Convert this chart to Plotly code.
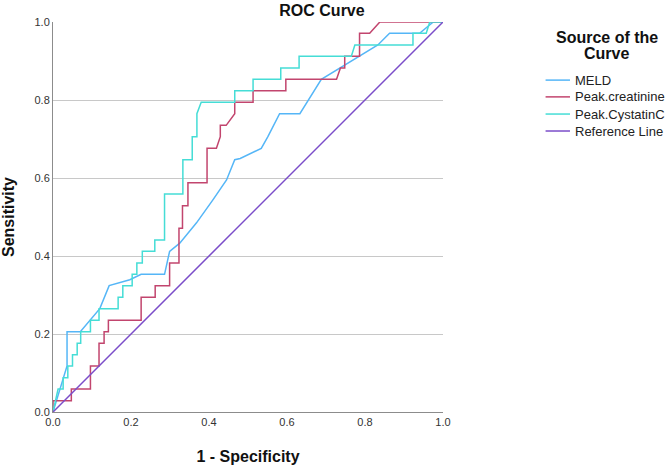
import plotly.graph_objects as go

# ROC curve points (x = 1 - specificity, y = sensitivity)
meld_x = [0, 0.036, 0.036, 0.070, 0.120, 0.144, 0.197, 0.226, 0.286, 0.299, 0.325,
          0.368, 0.410, 0.445, 0.466, 0.480, 0.534, 0.551, 0.581, 0.633, 0.688,
          0.833, 0.863, 0.940, 0.975, 1.0]
meld_y = [0, 0.118, 0.206, 0.206, 0.265, 0.324, 0.339, 0.353, 0.353, 0.412, 0.433,
          0.485, 0.544, 0.595, 0.647, 0.650, 0.676, 0.706, 0.765, 0.765, 0.853,
          0.941, 0.971, 0.971, 1.0, 1.0]

creat_x = [0, 0, 0.047, 0.047, 0.096, 0.096, 0.118, 0.118, 0.131, 0.131, 0.142, 0.142,
           0.226, 0.226, 0.262, 0.262, 0.299, 0.299, 0.323, 0.323, 0.332, 0.332,
           0.346, 0.346, 0.395, 0.395, 0.419, 0.429, 0.429, 0.444, 0.466, 0.466,
           0.513, 0.513, 0.597, 0.597, 0.727, 0.737, 0.748, 0.748, 0.786, 0.786,
           0.812, 0.838, 1.0]
creat_y = [0, 0.029, 0.029, 0.059, 0.059, 0.118, 0.118, 0.176, 0.176, 0.206, 0.206, 0.235,
           0.235, 0.294, 0.294, 0.324, 0.324, 0.382, 0.382, 0.471, 0.471, 0.529,
           0.529, 0.588, 0.588, 0.676, 0.676, 0.706, 0.735, 0.735, 0.765, 0.794,
           0.794, 0.824, 0.824, 0.853, 0.853, 0.882, 0.882, 0.912, 0.912, 0.971,
           0.971, 1.0, 1.0]

cyst_x = [0, 0.013, 0.026, 0.026, 0.038, 0.038, 0.050, 0.050, 0.062, 0.062, 0.071, 0.071,
          0.096, 0.096, 0.118, 0.118, 0.167, 0.167, 0.179, 0.179, 0.203, 0.203,
          0.215, 0.215, 0.229, 0.229, 0.261, 0.261, 0.286, 0.286, 0.333, 0.333,
          0.357, 0.357, 0.369, 0.369, 0.380, 0.466, 0.466, 0.513, 0.513, 0.584,
          0.584, 0.631, 0.631, 0.765, 0.774, 0.923, 0.923, 0.957, 0.966, 1.0]
cyst_y = [0, 0.059, 0.059, 0.088, 0.088, 0.118, 0.118, 0.147, 0.147, 0.176, 0.176, 0.206,
          0.206, 0.235, 0.235, 0.265, 0.265, 0.294, 0.294, 0.324, 0.324, 0.353,
          0.353, 0.382, 0.382, 0.412, 0.412, 0.441, 0.441, 0.559, 0.559, 0.647,
          0.647, 0.706, 0.706, 0.765, 0.794, 0.794, 0.824, 0.824, 0.853, 0.853,
          0.882, 0.882, 0.912, 0.912, 0.941, 0.941, 0.971, 0.971, 1.0, 1.0]

ref_x = [0, 1]
ref_y = [0, 1]

names = ["MELD", "Peak.creatinine", "Peak.CystatinC", "Reference Line"]
colors = ["#55B6F7", "#C2456E", "#45DDD6", "#7B4DC9"]
series = [(meld_x, meld_y), (creat_x, creat_y), (cyst_x, cyst_y), (ref_x, ref_y)]

fig = go.Figure()
for (xs, ys), name, color in zip(series, names, colors):
    fig.add_trace(go.Scatter(x=xs, y=ys, mode="lines", name=name, showlegend=False,
                             line=dict(color=color, width=1.5)))

font = "Liberation Sans, Arial, sans-serif"

# legend drawn by hand so its spacing matches the SPSS output
leg_y = [0.851, 0.808, 0.764, 0.7205]
for name, color, yy in zip(names, colors, leg_y):
    fig.add_shape(type="line", xref="paper", yref="paper", x0=1.263, x1=1.3256,
                  y0=yy, y1=yy, line=dict(color=color, width=1.5))
    fig.add_annotation(text=name, xref="paper", yref="paper", x=1.334, y=yy,
                       xanchor="left", yanchor="middle", showarrow=False,
                       font=dict(size=13, color="#222222"))
for txt, yy in [("<b>Source of the</b>", 0.959), ("<b>Curve</b>", 0.918)]:
    fig.add_annotation(text=txt, xref="paper", yref="paper", x=1.42, y=yy,
                       xanchor="center", yanchor="middle", showarrow=False,
                       font=dict(size=16, color="#111111"))

fig.update_layout(
    width=669, height=466,
    margin=dict(l=53, r=226, t=22, b=54),
    paper_bgcolor="white", plot_bgcolor="white",
    font=dict(family=font, size=11, color="#333333"),
    title=dict(text="<b>ROC Curve</b>", x=322 / 669, xanchor="center",
               y=1 - 10 / 466, yanchor="middle", font=dict(size=16, color="#111111")),
    xaxis=dict(range=[0, 1], tickvals=[0, 0.2, 0.4, 0.6, 0.8, 1.0], tickformat=".1f",
               showgrid=False, zeroline=False, showline=True, linecolor="#8c8c8c",
               linewidth=1, ticks="", automargin=False,
               title=dict(text="<b>1 - Specificity</b>", standoff=23,
                          font=dict(size=16, color="#111111"))),
    yaxis=dict(range=[0, 1], tickvals=[0, 0.2, 0.4, 0.6, 0.8, 1.0], tickformat=".1f",
               showgrid=True, gridcolor="#c8c8c8", gridwidth=1.3, zeroline=False,
               showline=True, linecolor="#8c8c8c", linewidth=1, ticks="",
               automargin=False,
               title=dict(text="<b>Sensitivity</b>", standoff=15,
                          font=dict(size=16, color="#111111"))),
)

# drop the page's default 8px body margin so the figure sits at the window corner
fig.write_html("out.html", config={"displayModeBar": False},
               post_script="document.body.style.margin='0';")
